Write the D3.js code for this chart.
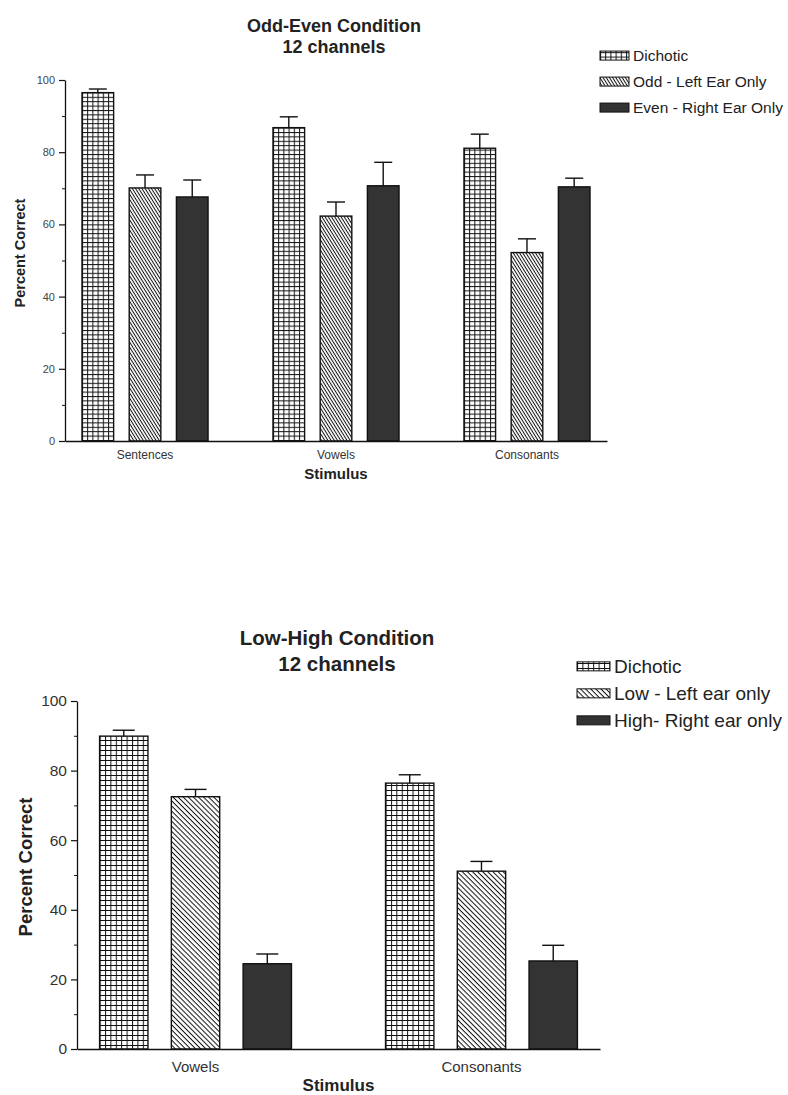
<!DOCTYPE html>
<html>
<head>
<meta charset="utf-8">
<script src="https://cdn.jsdelivr.net/npm/d3@7/dist/d3.min.js"></script>
<style>
  html, body { margin: 0; padding: 0; background: #fff; }
  svg { display: block; font-family: "Liberation Sans", Arial, sans-serif; }
</style>
</head>
<body>
<svg id="chart" width="788" height="1095"></svg>
<script>
// ---- Odd-Even condition data ----
const oddEvenCategories = ["Sentences", "Vowels", "Consonants"];
const oddEvenSeries = ["Dichotic", "Odd - Left Ear Only", "Even - Right Ear Only"];
const oddEvenDichotic = [96.5, 86.8, 81.1];
const oddEvenDichoticErr = [1.0, 3.0, 3.9];
const oddEvenLeft = [70.1, 62.3, 52.2];
const oddEvenLeftErr = [3.6, 3.9, 3.8];
const oddEvenRight = [67.6, 70.7, 70.4];
const oddEvenRightErr = [4.7, 6.5, 2.4];

// ---- Low-High condition data ----
const lowHighCategories = ["Vowels", "Consonants"];
const lowHighSeries = ["Dichotic", "Low - Left ear only", "High- Right ear only"];
const lowHighDichotic = [89.9, 76.4];
const lowHighDichoticErr = [1.7, 2.4];
const lowHighLeft = [72.5, 51.1];
const lowHighLeftErr = [2.1, 2.8];
const lowHighRight = [24.5, 25.3];
const lowHighRightErr = [2.8, 4.5];

const yTicks = [0, 20, 40, 60, 80, 100];
const yMinorTicks = [10, 30, 50, 70, 90];

const svg = d3.select("#chart");
const defs = svg.append("defs");

// Fill patterns: grid, diagonal hatch (down-right), solid dark
function makePatterns(id, gx, gy, hatch, angle) {
  const grid = defs.append("pattern").attr("id", "grid-" + id)
    .attr("patternUnits", "userSpaceOnUse").attr("width", gx).attr("height", gy);
  grid.append("rect").attr("width", gx).attr("height", gy).attr("fill", "#fff");
  grid.append("line").attr("x1", 0.5).attr("y1", 0).attr("x2", 0.5).attr("y2", gy)
    .attr("stroke", "#111").attr("stroke-width", 1);
  grid.append("line").attr("x1", 0).attr("y1", 0.5).attr("x2", gx).attr("y2", 0.5)
    .attr("stroke", "#111").attr("stroke-width", 1);

  const diag = defs.append("pattern").attr("id", "diag-" + id)
    .attr("patternUnits", "userSpaceOnUse").attr("width", hatch).attr("height", hatch)
    .attr("patternTransform", `rotate(${angle})`);
  diag.append("rect").attr("width", hatch).attr("height", hatch).attr("fill", "#fff");
  diag.append("line").attr("x1", 0).attr("y1", 0.5).attr("x2", hatch).attr("y2", 0.5)
    .attr("stroke", "#111").attr("stroke-width", 1);
  return ["url(#grid-" + id + ")", "url(#diag-" + id + ")", "#333"];
}

function drawPanel(cfg) {
  const fills = makePatterns(cfg.id, cfg.gridX, cfg.gridY, cfg.hatch, cfg.hatchAngle);
  const g = svg.append("g");

  const y = d3.scaleLinear().domain([0, 100]).range([cfg.y0, cfg.y100]);
  const x0 = d3.scaleBand().domain(cfg.categories)
    .range([cfg.left, cfg.right])
    .paddingInner(cfg.groupPadIn).paddingOuter(cfg.groupPadOut);
  const x1 = d3.scaleBand().domain(cfg.series.map((d, i) => i))
    .range([0, x0.bandwidth()]).paddingInner(cfg.barPad).paddingOuter(0);

  const rows = cfg.categories.map((c, ci) => ({
    cat: c,
    vals: cfg.values.map((arr, si) => ({ si, v: arr[ci], e: cfg.errors[si][ci] }))
  }));

  // y axis (major + minor)
  const yAxis = g.append("g").attr("transform", `translate(${cfg.left},0)`)
    .call(d3.axisLeft(y).tickValues(yTicks).tickSize(cfg.tickLen).tickSizeOuter(0).tickPadding(cfg.tickPad));
  yAxis.select(".domain").attr("stroke", "#111").attr("stroke-width", 1.3);
  yAxis.selectAll(".tick line").attr("stroke", "#111").attr("stroke-width", 1.2);
  yAxis.selectAll(".tick text").attr("font-size", cfg.tickFont).attr("fill", cfg.tickColor)
    .attr("font-family", "Liberation Sans, Arial, sans-serif");
  const yMinor = g.append("g").attr("transform", `translate(${cfg.left},0)`)
    .call(d3.axisLeft(y).tickValues(yMinorTicks).tickSize(cfg.tickLen * 0.5).tickSizeOuter(0).tickFormat(""));
  yMinor.select(".domain").remove();
  yMinor.selectAll(".tick line").attr("stroke", "#111");

  // bars
  const groups = g.selectAll("g.grp").data(rows).join("g").attr("class", "grp")
    .attr("transform", d => `translate(${x0(d.cat)},0)`);
  groups.selectAll("rect").data(d => d.vals).join("rect")
    .attr("x", d => x1(d.si)).attr("width", x1.bandwidth())
    .attr("y", d => y(d.v)).attr("height", d => y(0) - y(d.v))
    .attr("fill", d => fills[d.si]).attr("stroke", "#111").attr("stroke-width", 1.4);

  // error bars (upper side only)
  groups.selectAll("line.err").data(d => d.vals).join("line").attr("class", "err")
    .attr("x1", d => x1(d.si) + x1.bandwidth() / 2).attr("x2", d => x1(d.si) + x1.bandwidth() / 2)
    .attr("y1", d => y(d.v)).attr("y2", d => y(d.v + d.e))
    .attr("stroke", "#111").attr("stroke-width", 1.4);
  groups.selectAll("line.cap").data(d => d.vals).join("line").attr("class", "cap")
    .attr("x1", d => x1(d.si) + x1.bandwidth() / 2 - cfg.cap / 2)
    .attr("x2", d => x1(d.si) + x1.bandwidth() / 2 + cfg.cap / 2)
    .attr("y1", d => y(d.v + d.e)).attr("y2", d => y(d.v + d.e))
    .attr("stroke", "#111").attr("stroke-width", 1.4);

  // x axis
  const xAxis = g.append("g").attr("transform", `translate(0,${cfg.y0})`)
    .call(d3.axisBottom(x0).tickSize(0).tickSizeOuter(0).tickPadding(cfg.catPad));
  xAxis.select(".domain").attr("stroke", "#111").attr("stroke-width", 1.3);
  xAxis.selectAll(".tick text").attr("font-size", cfg.catFont).attr("fill", "#333")
    .attr("font-family", "Liberation Sans, Arial, sans-serif");

  // axis titles
  g.append("text").attr("x", (x0(cfg.categories[0]) + x0(cfg.categories[cfg.categories.length - 1]) + x0.bandwidth()) / 2)
    .attr("y", cfg.stimY).attr("text-anchor", "middle")
    .attr("font-size", cfg.stimFont).attr("font-weight", "bold").attr("fill", "#222")
    .text("Stimulus");
  g.append("text").attr("transform", `translate(${cfg.ylabX},${cfg.ylabY}) rotate(-90)`)
    .attr("text-anchor", "middle").attr("font-size", cfg.ylabFont).attr("font-weight", "bold")
    .attr("fill", "#222").text("Percent Correct");

  // title
  const t = g.append("text").attr("text-anchor", "middle").attr("font-weight", "bold")
    .attr("font-size", cfg.titleFont).attr("fill", "#222");
  t.append("tspan").attr("x", cfg.titleX).attr("y", cfg.titleY).text(cfg.title);
  t.append("tspan").attr("x", cfg.titleX).attr("y", cfg.titleY + cfg.titleGap).text("12 channels");

  // legend
  const leg = g.selectAll("g.leg").data(cfg.series).join("g").attr("class", "leg")
    .attr("transform", (d, i) => `translate(${cfg.legX},${cfg.legY + i * cfg.legGap})`);
  leg.append("rect").attr("x", 0).attr("y", -cfg.patchH / 2 - cfg.legFont * 0.35)
    .attr("width", cfg.patchW).attr("height", cfg.patchH)
    .attr("fill", (d, i) => fills[i]).attr("stroke", "#111").attr("stroke-width", 1);
  leg.append("text").attr("x", cfg.patchW + 4).attr("y", 0)
    .attr("font-size", cfg.legFont).attr("fill", "#222").text(d => d);
}

drawPanel({
  id: "oe", title: "Odd-Even Condition", categories: oddEvenCategories, series: oddEvenSeries,
  values: [oddEvenDichotic, oddEvenLeft, oddEvenRight],
  errors: [oddEvenDichoticErr, oddEvenLeftErr, oddEvenRightErr],
  left: 65, right: 607, y0: 441, y100: 80,
  groupPadIn: 0.34, groupPadOut: 0.089, barPad: 0.33,
  gridX: 5.2, gridY: 4.4, hatch: 2.7, hatchAngle: 58, cap: 18,
  tickLen: 6, tickPad: 4, tickFont: 11, tickColor: "#444",
  catFont: 12, catPad: 9, stimFont: 15, stimY: 479,
  ylabFont: 14.5, ylabX: 25, ylabY: 253,
  titleFont: 18, titleX: 334, titleY: 32, titleGap: 21,
  legX: 600, legY: 61, legGap: 26, legFont: 15.5, patchW: 29, patchH: 9
});

drawPanel({
  id: "lh", title: "Low-High Condition", categories: lowHighCategories, series: lowHighSeries,
  values: [lowHighDichotic, lowHighLeft, lowHighRight],
  errors: [lowHighDichoticErr, lowHighLeftErr, lowHighRightErr],
  left: 77, right: 600, y0: 1049, y100: 701,
  groupPadIn: 0.329, groupPadOut: 0.079, barPad: 0.326,
  gridX: 5.4, gridY: 5.0, hatch: 3.6, hatchAngle: 45, cap: 22,
  tickLen: 6, tickPad: 4, tickFont: 15.5, tickColor: "#333",
  catFont: 15, catPad: 12, stimFont: 17, stimY: 1091,
  ylabFont: 18.5, ylabX: 32, ylabY: 867,
  titleFont: 20.5, titleX: 337, titleY: 645, titleGap: 26,
  legX: 577, legY: 673, legGap: 27, legFont: 19, patchW: 33, patchH: 9
});
</script>
</body>
</html>
